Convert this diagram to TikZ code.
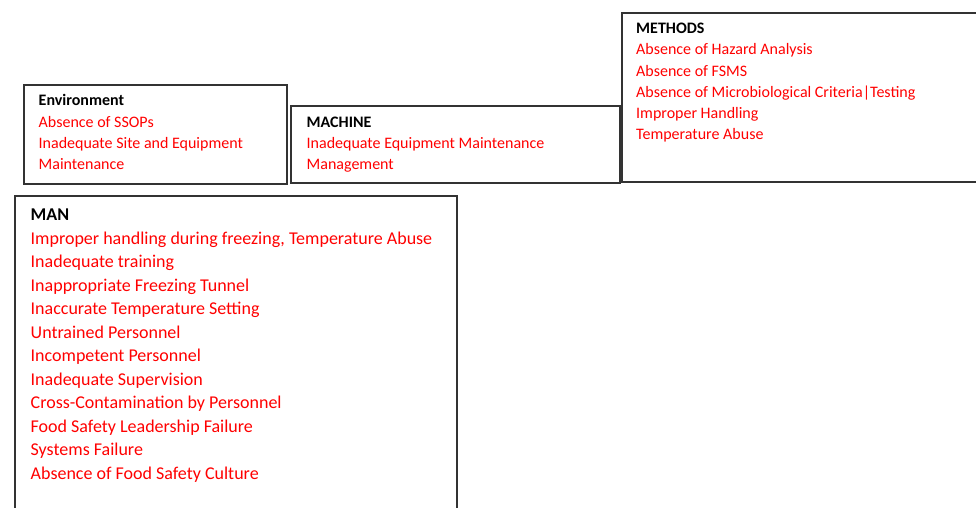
\documentclass[tikz,border=0pt]{standalone}
\usepackage{fontspec}
\setmainfont{Carlito}
\definecolor{boxline}{HTML}{333333}
\tikzset{
  boxframe/.style={draw=boxline, line width=1.8pt},
  smallhead/.style={anchor=base west, inner sep=0pt, font=\fontsize{16}{19}\selectfont\bfseries, text=black},
  smallitem/.style={anchor=base west, inner sep=0pt, font=\fontsize{16}{19}\selectfont, text=red},
  bighead/.style={anchor=base west, inner sep=0pt, font=\fontsize{18}{21}\selectfont\bfseries, text=black},
  bigitem/.style={anchor=base west, inner sep=0pt, font=\fontsize{18}{21}\selectfont, text=red}
}
\begin{document}
\begin{tikzpicture}[x=1pt,y=-1pt]
\useasboundingbox (0,0) rectangle (976,507);
\clip (0,0) rectangle (976,507);
% frames
\node[boxframe, rectangle, minimum width=263pt, minimum height=99pt, anchor=north west, inner sep=0pt] (envbox) at (23,84) {};
\node[boxframe, rectangle, minimum width=329pt, minimum height=77pt, anchor=north west, inner sep=0pt] (machbox) at (290,105) {};
\node[boxframe, rectangle, minimum width=365pt, minimum height=169pt, anchor=north west, inner sep=0pt] (methbox) at (621,12) {};
\node[boxframe, rectangle, minimum width=442pt, minimum height=330pt, anchor=north west, inner sep=0pt] (manbox) at (14,195) {};
% Environment
\node[smallhead] (env0) at (38.5,105.7) {Environment};
\node[smallitem] (env1) at (38.5,127.3) {Absence of SSOPs};
\node[smallitem] (env2) at (38.5,148.6) {Inadequate Site and Equipment};
\node[smallitem] (env3) at (38.5,169.9) {Maintenance};
% Machine
\node[smallhead] (mach0) at (306.5,127) {MACHINE};
\node[smallitem] (mach1) at (306.5,148.6) {Inadequate Equipment Maintenance};
\node[smallitem] (mach2) at (306.5,169.6) {Management};
% Methods
\node[smallhead] (meth0) at (636,33.3) {METHODS};
\node[smallitem] (meth1) at (636,54.8) {Absence of Hazard Analysis};
\node[smallitem] (meth2) at (636,76) {Absence of FSMS};
\node[smallitem] (meth3) at (636,97.3) {Absence of Microbiological Criteria|Testing};
\node[smallitem] (meth4) at (636,118.5) {Improper Handling};
\node[smallitem] (meth5) at (636,139.5) {Temperature Abuse};
% Man
\node[bighead] (man0) at (30.5,220) {MAN};
\node[bigitem] (man1) at (30.5,244.3) {Improper handling during freezing, Temperature Abuse};
\node[bigitem] (man2) at (30.5,267.7) {Inadequate training};
\node[bigitem] (man3) at (30.5,291.1) {Inappropriate Freezing Tunnel};
\node[bigitem] (man4) at (30.5,314.6) {Inaccurate Temperature Setting};
\node[bigitem] (man5) at (30.5,338.1) {Untrained Personnel};
\node[bigitem] (man6) at (30.5,361.6) {Incompetent Personnel};
\node[bigitem] (man7) at (30.5,385.1) {Inadequate Supervision};
\node[bigitem] (man8) at (30.5,408.6) {Cross-Contamination by Personnel};
\node[bigitem] (man9) at (30.5,432.1) {Food Safety Leadership Failure};
\node[bigitem] (man10) at (30.5,455.6) {Systems Failure};
\node[bigitem] (man11) at (30.5,479.1) {Absence of Food Safety Culture};
\end{tikzpicture}
\end{document}
